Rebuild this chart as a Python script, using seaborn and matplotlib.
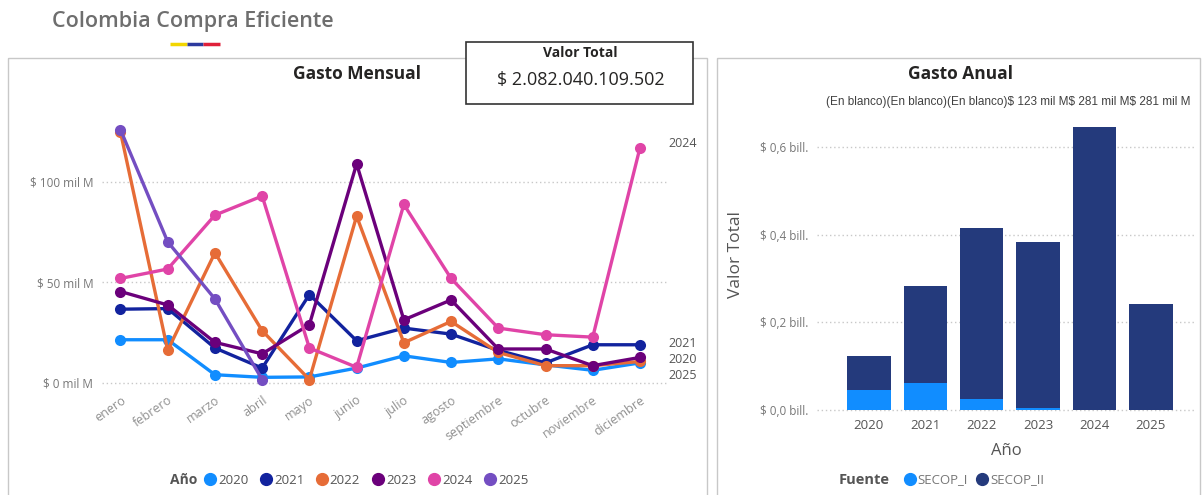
import matplotlib
matplotlib.use("Agg")
import matplotlib.pyplot as plt
import matplotlib.patches as mpatches
from matplotlib.lines import Line2D
import seaborn as sns
import pandas as pd
import numpy as np

# ---------------- data ----------------
months = ["enero", "febrero", "marzo", "abril", "mayo", "junio", "julio",
          "agosto", "septiembre", "octubre", "noviembre", "diciembre"]
years = ["2020", "2021", "2022", "2023", "2024", "2025"]
# monthly spend, "mil M" (thousand millions of pesos)
gasto_2020 = [21.5, 21.5, 4.1, 2.8, 3.0, 7.4, 13.5, 10.2, 12.0, 9.0, 6.3, 10.0]
gasto_2021 = [36.7, 37.0, 17.4, 7.4, 44.0, 21.0, 27.3, 24.3, 16.2, 10.0, 19.0, 19.0]
gasto_2022 = [124.8, 16.2, 64.8, 26.0, 1.7, 83.0, 20.0, 30.6, 15.2, 8.6, 8.6, 10.7]
gasto_2023 = [45.5, 38.8, 20.2, 14.5, 29.0, 109.0, 31.4, 41.3, 16.9, 16.9, 8.6, 12.7]
gasto_2024 = [52.0, 56.7, 83.5, 93.0, 17.4, 7.8, 88.8, 52.0, 27.3, 24.0, 22.8, 117.0]
gasto_2025 = [126.0, 70.2, 41.8, 1.7]
year_colors = ["#118DFF", "#12239E", "#E66C37", "#6B007B", "#E044A7", "#744EC2"]
end_label_values = [11.5, 19.5, None, None, 119.0, 3.5]  # right-side label positions

# annual spend by source, "bill." (billones)
secop_i = [0.046, 0.061, 0.026, 0.004, 0.0, 0.0]
secop_ii = [0.077, 0.222, 0.389, 0.380, 0.645, 0.241]
source_colors = {"SECOP_I": "#118DFF", "SECOP_II": "#243A7C"}
bar_ticks = [0.0, 0.2, 0.4, 0.6]
bar_tick_labels = ["$ 0,0 bill.", "$ 0,2 bill.", "$ 0,4 bill.", "$ 0,6 bill."]
line_ticks = [0, 50, 100]
line_tick_labels = ["$ 0 mil M", "$ 50 mil M", "$ 100 mil M"]
data_label_text = "(En blanco)(En blanco)(En blanco)$ 123 mil M$ 281 mil M$ 281 mil M"

# ---------------- figure ----------------
sns.set_theme(style="white")
FONT = ["Open Sans", "DejaVu Sans"]
plt.rcParams["font.family"] = FONT
W, H = 1204, 495
fig = plt.figure(figsize=(W / 100, H / 100), dpi=100)
fig.patch.set_facecolor("white")

def px_axes(x0, y0, x1, y1, **kw):
    return fig.add_axes([x0 / W, 1 - y1 / H, (x1 - x0) / W, (y1 - y0) / H], **kw)

# background layer in pixel coordinates
bg = px_axes(0, 0, W, H)
bg.set_xlim(0, W)
bg.set_ylim(H, 0)
bg.axis("off")
bg.text(52, 22, "Colombia Compra Eficiente", fontsize=15.5, fontweight="semibold",
        color="#6E6E6E", va="center", ha="left")
bg.plot([170, 187], [44, 44], color="#F2D600", lw=2.5, solid_capstyle="butt")
bg.plot([187, 203], [44, 44], color="#2D3A9E", lw=2.5, solid_capstyle="butt")
bg.plot([203, 220], [44, 44], color="#E0203A", lw=2.5, solid_capstyle="butt")
bg.add_patch(mpatches.Rectangle((8, 58), 699, 440, fill=False, ec="#C8C8C8", lw=1))
bg.add_patch(mpatches.Rectangle((717, 58), 483, 440, fill=False, ec="#C8C8C8", lw=1))
bg.add_patch(mpatches.Rectangle((466, 42), 227, 62, fc="white", ec="#333333", lw=1.2, zorder=5))
bg.text(580, 53, "Valor Total", fontsize=10, fontweight="bold", color="#252423",
        ha="center", va="center", zorder=6)
bg.text(581, 80, "$ 2.082.040.109.502", fontsize=13, color="#252423",
        ha="center", va="center", zorder=6)
bg.text(357, 74, "Gasto Mensual", fontsize=12.5, fontweight="bold", color="#252423",
        ha="center", va="center")
bg.text(960, 74, "Gasto Anual", fontsize=12.5, fontweight="bold", color="#252423",
        ha="center", va="center")
lbl = bg.text(826, 102, data_label_text, fontsize=8.5, color="#404040", ha="left", va="center",
              family=["Liberation Sans", "DejaVu Sans"])
lbl.set_clip_on(True)
lbl.set_clip_path(mpatches.Rectangle((717, 58), 483, 440, transform=bg.transData))

# ---------------- line chart ----------------
rows = []
for y, vals in zip(years, [gasto_2020, gasto_2021, gasto_2022, gasto_2023, gasto_2024, gasto_2025]):
    for i, v in enumerate(vals):
        rows.append({"Mes": months[i], "Año": y, "Valor": v, "idx": i})
df_line = pd.DataFrame(rows)

ax1 = px_axes(101.6, 109.6, 668.3, 391)
sns.lineplot(data=df_line, x="idx", y="Valor", hue="Año", hue_order=years,
             palette=year_colors, marker="o", markersize=8, markeredgewidth=0,
             linewidth=2.4, ax=ax1, legend=False, sort=False)
ax1.set_xlim(-0.4, 11.6)
ax1.set_ylim(-4, 136)
ax1.set_xticks(range(len(months)))
ax1.set_xticklabels(months, rotation=35, ha="right", rotation_mode="anchor",
                    fontsize=9, color="#909090")
ax1.set_yticks(line_ticks)
ax1.set_yticklabels(line_tick_labels, fontsize=8.5, color="#777777")
ax1.tick_params(axis="both", length=0, pad=6)
ax1.tick_params(axis="x", pad=2)
ax1.grid(axis="y", color="#C8C8C8", linestyle=(0, (1, 2)), linewidth=1)
ax1.set_xlabel("")
ax1.set_ylabel("")
for s in ax1.spines.values():
    s.set_visible(False)
ax1.patch.set_alpha(0)
for y, v in zip(years, end_label_values):
    if v is not None:
        ax1.text(11.6, v, y, fontsize=9, color="#555555", ha="left", va="center",
                 clip_on=False)

# legend for line chart
handles = [Line2D([], [], marker="o", linestyle="", color=c, markersize=8.5) for c in year_colors]
fig.legend(handles, years, loc="center left", bbox_to_anchor=(204 / W, 1 - 480 / H),
           ncol=6, frameon=False, fontsize=9.5, handletextpad=0.15, columnspacing=0.9,
           handlelength=0.9, borderaxespad=0, borderpad=0, labelcolor="#555555")
fig.text(170 / W, 1 - 480 / H, "Año", fontsize=10, fontweight="bold", color="#555555",
         ha="left", va="center")

# ---------------- bar chart ----------------
totals = [a + b for a, b in zip(secop_i, secop_ii)]
df_bar = pd.DataFrame({"Año": years, "SECOP_I": secop_i, "SECOP_II": secop_ii, "Total": totals})
ax2 = px_axes(817, 112, 1195, 412.2)
sns.barplot(data=df_bar, x="Año", y="Total", color=source_colors["SECOP_II"],
            saturation=1, width=0.77, linewidth=0, ax=ax2)
sns.barplot(data=df_bar, x="Año", y="SECOP_I", color=source_colors["SECOP_I"],
            saturation=1, width=0.77, linewidth=0, ax=ax2)
ax2.set_xlim(-0.92, 5.78)
ax2.set_ylim(-0.005, 0.68)
ax2.set_yticks(bar_ticks)
ax2.set_yticklabels(bar_tick_labels, fontsize=8.5, color="#777777")
ax2.tick_params(axis="both", length=0)
ax2.tick_params(axis="y", pad=6)
ax2.tick_params(axis="x", pad=5, labelsize=9.5, labelcolor="#555555")
ax2.grid(axis="y", color="#C8C8C8", linestyle=(0, (1, 2)), linewidth=1)
ax2.set_axisbelow(True)
ax2.set_xlabel("Año", fontsize=12, color="#555555", labelpad=8)
ax2.set_ylabel("")
for s in ax2.spines.values():
    s.set_visible(False)
ax2.patch.set_alpha(0)
fig.text(736 / W, 1 - 255 / H, "Valor Total", fontsize=12.5, color="#555555",
         rotation=90, ha="center", va="center")

src_handles = [Line2D([], [], marker="o", linestyle="", color=source_colors[k], markersize=8.5)
               for k in ["SECOP_I", "SECOP_II"]]
fig.legend(src_handles, ["SECOP_I", "SECOP_II"], loc="center left",
           bbox_to_anchor=(903 / W, 1 - 480 / H), ncol=2, frameon=False, fontsize=9.5,
           handletextpad=0.1, columnspacing=0.6, handlelength=1.0, borderaxespad=0,
           borderpad=0, labelcolor="#777777")
fig.text(839 / W, 1 - 480 / H, "Fuente", fontsize=10.5, fontweight="bold", color="#555555",
         ha="left", va="center")

fig.savefig("out.png", dpi=100, facecolor="white")
